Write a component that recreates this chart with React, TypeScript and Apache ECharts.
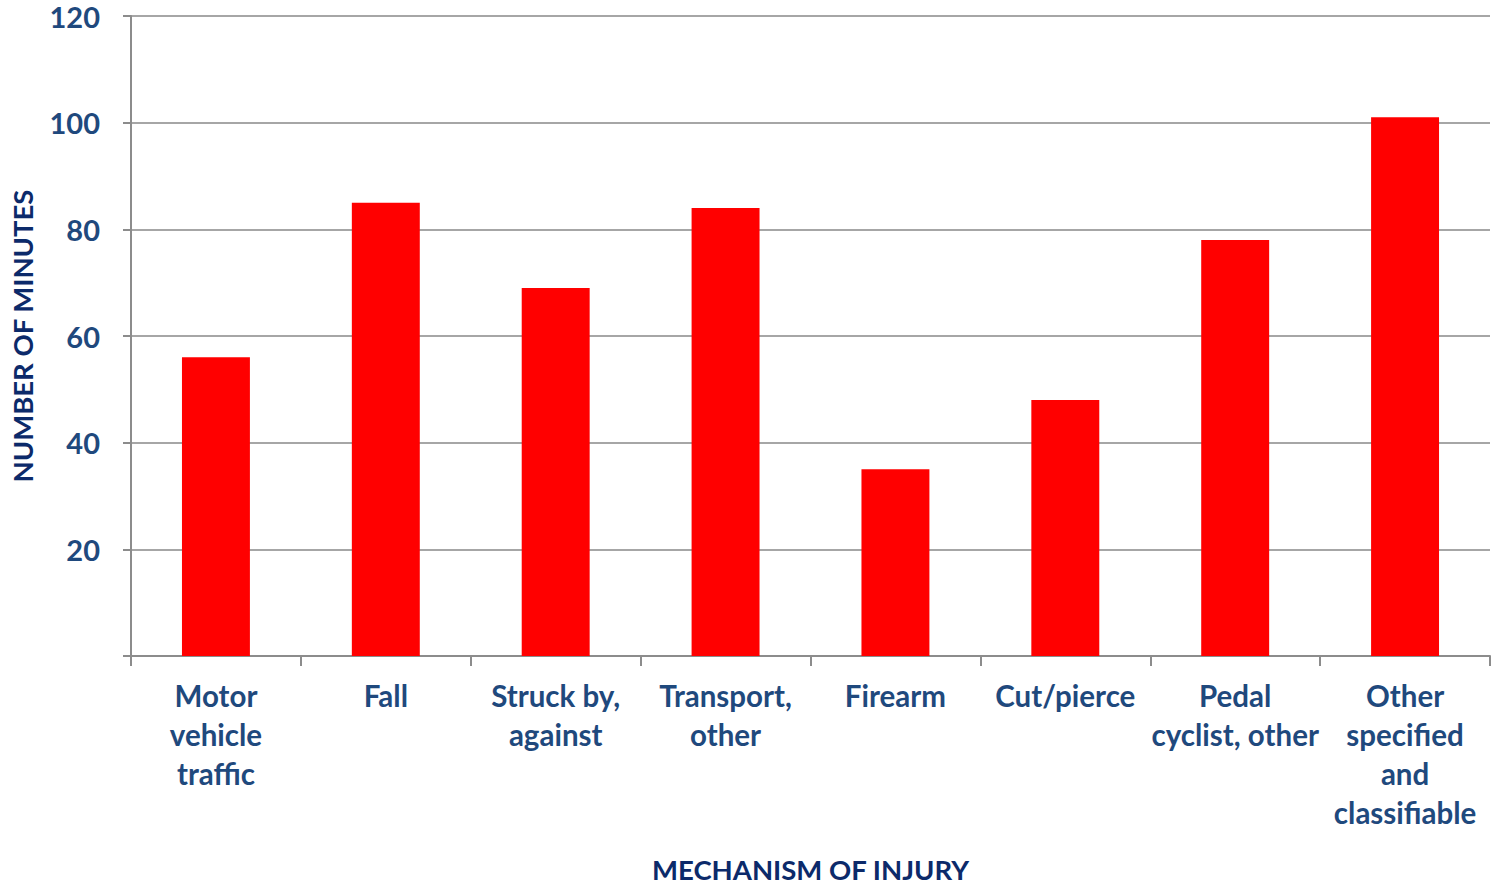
import React, { useEffect, useRef } from "react";
import * as echarts from "echarts";

const categories = [
  "Motor\nvehicle\ntraffic",
  "Fall",
  "Struck by,\nagainst",
  "Transport,\nother",
  "Firearm",
  "Cut/pierce",
  "Pedal\ncyclist, other",
  "Other\nspecified\nand\nclassifiable",
];
const minutes = [56, 85, 69, 84, 35, 48, 78, 101];
const yTicks = { min: 0, max: 120, interval: 20 };

export default function App() {
  const ref = useRef<HTMLDivElement>(null);
  useEffect(() => {
    document.body.style.margin = "0";
    const chart = echarts.init(ref.current!, null, { renderer: "svg" });
    const font = "Lato, 'Open Sans', sans-serif";
    chart.setOption({
      animation: false,
      backgroundColor: "#ffffff",
      grid: { left: 124, right: 3, top: 16, bottom: 234, containLabel: false },
      xAxis: {
        type: "category",
        data: categories,
        name: "MECHANISM OF INJURY",
        nameLocation: "middle",
        nameGap: 199,
        nameTextStyle: { color: "#0C2A6A", fontSize: 27.5, fontWeight: "bold", fontFamily: font },
        axisLine: { show: true, lineStyle: { color: "#8C8C8C", width: 2 } },
        axisTick: { show: true, length: 10, lineStyle: { color: "#8C8C8C", width: 2 } },
        axisLabel: {
          color: "#1F497D",
          fontSize: 29.5,
          fontWeight: "bold",
          fontFamily: font,
          lineHeight: 39,
          margin: 20,
          interval: 0,
        },
      },
      yAxis: {
        type: "value",
        min: yTicks.min,
        max: yTicks.max,
        interval: yTicks.interval,
        name: "NUMBER OF MINUTES",
        nameLocation: "middle",
        nameGap: 95,
        nameRotate: 90,
        nameTextStyle: { color: "#0C2A6A", fontSize: 27.5, fontWeight: "bold", fontFamily: font },
        axisLine: { show: true, lineStyle: { color: "#8C8C8C", width: 2 } },
        axisTick: { show: true, length: 8, lineStyle: { color: "#8C8C8C", width: 2 } },
        splitLine: { show: true, lineStyle: { color: "#A6A6A6", width: 2 } },
        axisLabel: {
          color: "#1F497D",
          fontSize: 29,
          fontWeight: "bold",
          fontFamily: font,
          margin: 31,
          formatter: (v: number) => (v === 0 ? "" : String(v)),
        },
      },
      series: [
        {
          type: "bar",
          data: minutes,
          barWidth: "40%",
          itemStyle: { color: "#FF0000" },
        },
      ],
    });
    return () => chart.dispose();
  }, []);
  return <div ref={ref} style={{ width: 1493, height: 890 }} />;
}
